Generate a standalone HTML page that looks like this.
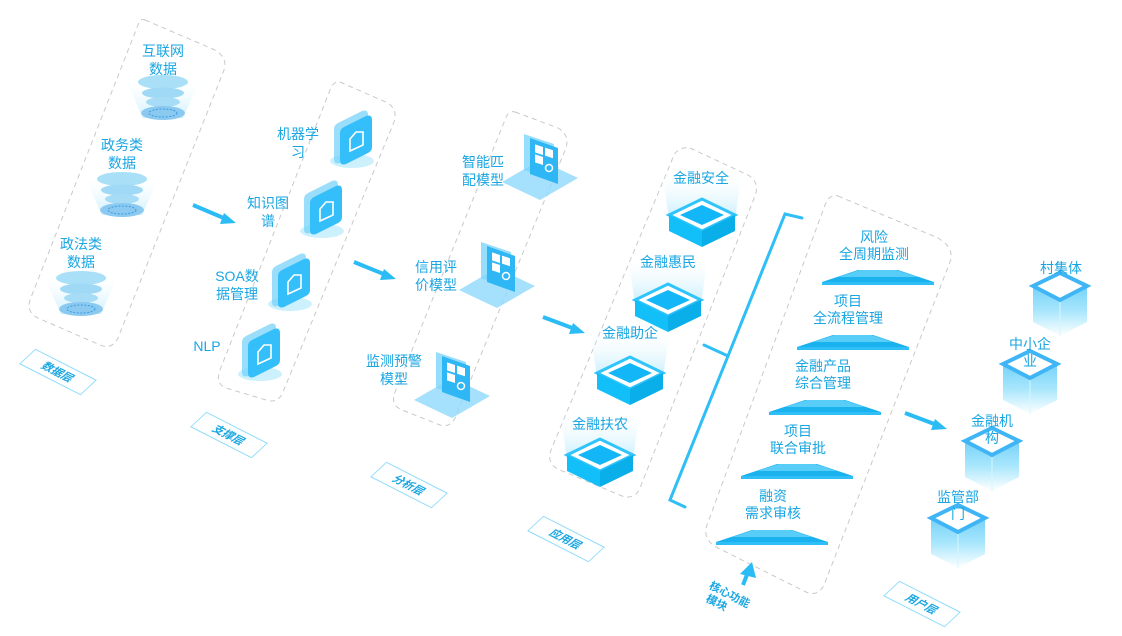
<!DOCTYPE html>
<html><head><meta charset="utf-8"><style>
html,body{margin:0;padding:0;background:#fff;}
svg text{font-family:"Liberation Sans","Noto Sans CJK SC",sans-serif;fill:#19a6e2;font-size:14px;text-anchor:middle;}
</style></head><body>
<svg width="1122" height="631" viewBox="0 0 1122 631" xmlns="http://www.w3.org/2000/svg">
<defs>
<linearGradient id="glow" x1="0" y1="0" x2="0" y2="1"><stop offset="0" stop-color="#ffffff" stop-opacity="0"/><stop offset="1" stop-color="#9fe3fb" stop-opacity="0.9"/></linearGradient>
<linearGradient id="cubeg" x1="0" y1="0" x2="0" y2="1"><stop offset="0" stop-color="#5cc8f8"/><stop offset="0.6" stop-color="#a8e6fc"/><stop offset="1" stop-color="#ffffff"/></linearGradient>
<g id="funnel">
<path d="M-38,-22 L38,-22 L20,18 L-20,18 Z" fill="url(#glow)" opacity="0.6"/>
<ellipse cx="0" cy="-18" rx="25" ry="7" fill="#a9e0f7"/>
<ellipse cx="0" cy="-7" rx="21" ry="5.5" fill="#9fd9f5"/>
<ellipse cx="0" cy="2" rx="17" ry="5" fill="#a6dcf6"/>
<ellipse cx="0" cy="13" rx="22" ry="7" fill="#8cc9f1"/>
<ellipse cx="0" cy="13" rx="14" ry="4" fill="none" stroke="#3c9fe0" stroke-dasharray="2 1.5"/>
</g>
<g id="sup">
<ellipse cx="0" cy="26" rx="22" ry="7" fill="#bfeefd" opacity="0.8"/>
<path d="M-14,-12 L10,-24 Q16,-26 16,-20 L16,10 Q16,14 12,16 L-12,28 Q-18,30 -18,24 L-18,-6 Q-18,-10 -14,-12 Z" fill="#6fd0fb" opacity="0.7"/>
<path d="M-8,-8 L14,-19 Q20,-21 20,-15 L20,12 Q20,16 16,18 L-6,29 Q-12,31 -12,25 L-12,-2 Q-12,-6 -8,-8 Z" fill="#34befa"/>
<path d="M-2,4 L4,-3 L11,-3 L11,10 L-2,16 Z" fill="none" stroke="#fff" stroke-width="1.6"/>
</g>
<g id="ana">
<path d="M-38,22 L0,0 L38,18 L0,40 Z" fill="#8ed8fb" opacity="0.8"/>
<path d="M-16,-26 L14,-16 L14,20 L-16,10 Z" fill="#7dd4fb" opacity="0.8"/>
<path d="M-10,-22 L18,-12 L18,24 L-10,14 Z" fill="#2fb6f4"/>
<rect x="-5" y="-14" width="8" height="8" fill="#fff" transform="skewY(18)"/>
<rect x="5" y="-14" width="8" height="8" fill="#fff" transform="skewY(18)"/>
<rect x="-5" y="-4" width="8" height="8" fill="#fff" transform="skewY(18)"/>
<circle cx="9" cy="8" r="3.5" fill="none" stroke="#fff" stroke-width="1.5"/>
</g>
<g id="box">
<path d="M-40,-55 L40,-55 L33,-5 L-33,-5 Z" fill="url(#glow)" opacity="0.7"/>
<path d="M-33,-10 L0,-26 L33,-10 L0,6 Z" fill="#fff" stroke="#2fc4fb" stroke-width="3"/>
<path d="M-22,-10 L0,-20 L22,-10 L0,0 Z" fill="#13b6f6"/>
<path d="M-33,-10 L0,6 L0,22 L-33,6 Z" fill="#12bff9"/>
<path d="M33,-10 L0,6 L0,22 L33,6 Z" fill="#0aaee9"/>
</g>
<g id="trap">
<path d="M-56,0 L-20,-12 L20,-12 L56,0 Z" fill="#19b2ee"/>
<path d="M-40,-5 L-18,-12 L18,-12 L40,-5 Z" fill="#57cdf8"/>
<rect x="-56" y="0" width="112" height="3" fill="#2fbff6"/>
</g>
<g id="ucube">
<path d="M-27,-14 L0,-27 L27,-14 L27,22 L0,36 L-27,22 Z" fill="url(#cubeg)"/>
<path d="M0,0 L0,36" stroke="#d8f5ff" stroke-width="1"/>
<path d="M-27,-14 L0,-27 L27,-14 L0,0 Z" fill="#fff" stroke="#3fb5f5" stroke-width="4"/>
</g>
</defs>
<g fill="none" stroke="#c9c9c9" stroke-dasharray="5 4" stroke-width="1">
<path d="M145,20 L215,50 Q228,58 224,70 L118,338 Q112,350 100,345 L38,318 Q26,312 30,300 L138,25 Q140,18 145,20 Z"/>
<path d="M340,82 L388,103 Q398,110 394,122 L283,392 Q278,404 266,400 L226,388 Q215,384 220,370 L330,90 Q334,80 340,82 Z"/>
<path d="M515,112 L558,128 Q570,135 566,148 L455,418 Q450,428 440,425 L402,410 Q390,405 395,392 L505,120 Q508,110 515,112 Z"/>
<path d="M690,148 L748,175 Q760,182 755,196 L640,488 Q635,500 622,496 L560,470 Q546,464 551,450 L672,160 Q676,146 690,148 Z"/>
<path d="M838,196 L938,238 Q955,248 950,262 L824,585 Q818,597 806,592 L718,548 Q702,540 707,525 L825,205 Q830,193 838,196 Z"/>
</g>
<g fill="none" stroke="#2fbff6" stroke-width="3" stroke-linecap="round">
<path d="M802,218 L785,214 L728,356 L704,345"/>
<path d="M728,356 L670,500 L685,507"/>
</g>
<g stroke="#2bbcf5" stroke-width="4" fill="#2bbcf5">
<line x1="193" y1="205" x2="226" y2="219"/><path d="M224,213 L236,223 L220,224 Z" stroke="none"/>
<line x1="354" y1="262" x2="386" y2="275"/><path d="M384,269 L396,279 L380,280 Z" stroke="none"/>
<line x1="543" y1="317" x2="575" y2="329"/><path d="M573,323 L585,333 L569,334 Z" stroke="none"/>
<line x1="905" y1="413" x2="937" y2="425"/><path d="M935,419 L947,429 L931,430 Z" stroke="none"/>
<line x1="743" y1="585" x2="748" y2="572"/><path d="M740,574 L752,562 L756,578 Z" stroke="none"/>
</g>
<use href="#funnel" x="163" y="100"/><use href="#funnel" x="122" y="197"/><use href="#funnel" x="81" y="296"/>
<use href="#sup" x="352" y="135"/><use href="#sup" x="322" y="205"/><use href="#sup" x="290" y="278"/><use href="#sup" x="260" y="348"/>
<use href="#ana" x="540" y="160"/><use href="#ana" x="497" y="268"/><use href="#ana" x="452" y="378"/>
<use href="#box" x="702" y="225"/><use href="#box" x="668" y="310"/><use href="#box" x="630" y="383"/><use href="#box" x="600" y="465"/>
<use href="#trap" x="878" y="282"/><use href="#trap" x="853" y="347"/><use href="#trap" x="825" y="412"/><use href="#trap" x="797" y="476"/><use href="#trap" x="772" y="542"/>
<use href="#ucube" x="1060" y="300"/><use href="#ucube" x="1030" y="378"/><use href="#ucube" x="992" y="455"/><use href="#ucube" x="958" y="532"/>
<text x="1061" y="273">村集体</text><text x="1030" y="349">中小企</text><text x="1030" y="366">业</text>
<text x="992" y="426">金融机</text><text x="992" y="443">构</text>
<text x="958" y="502">监管部</text><text x="958" y="519">门</text>
<text x="163" y="56">互联网</text><text x="163" y="74">数据</text>
<text x="122" y="150">政务类</text><text x="122" y="168">数据</text>
<text x="81" y="249">政法类</text><text x="81" y="267">数据</text>
<text x="298" y="139">机器学</text><text x="298" y="157">习</text>
<text x="268" y="208">知识图</text><text x="268" y="226">谱</text>
<text x="237" y="281">SOA数</text><text x="237" y="299">据管理</text>
<text x="207" y="351">NLP</text>
<text x="483" y="167">智能匹</text><text x="483" y="185">配模型</text>
<text x="436" y="272">信用评</text><text x="436" y="290">价模型</text>
<text x="394" y="366">监测预警</text><text x="394" y="384">模型</text>
<text x="701" y="183">金融安全</text><text x="668" y="267">金融惠民</text>
<text x="630" y="338">金融助企</text><text x="600" y="429">金融扶农</text>
<text x="874" y="242">风险</text><text x="874" y="259">全周期监测</text>
<text x="848" y="306">项目</text><text x="848" y="323">全流程管理</text>
<text x="823" y="371">金融产品</text><text x="823" y="388">综合管理</text>
<text x="798" y="436">项目</text><text x="798" y="453">联合审批</text>
<text x="773" y="501">融资</text><text x="773" y="518">需求审核</text>
<g>
<g transform="translate(58,372) rotate(27) skewX(-20)"><rect x="-34" y="-10" width="68" height="20" fill="none" stroke="#8fdcfb"/><text y="4" style="font-size:11px;font-weight:bold">数据层</text></g>
<g transform="translate(229,435) rotate(27) skewX(-20)"><rect x="-34" y="-10" width="68" height="20" fill="none" stroke="#8fdcfb"/><text y="4" style="font-size:11px;font-weight:bold">支撑层</text></g>
<g transform="translate(409,485) rotate(27) skewX(-20)"><rect x="-34" y="-10" width="68" height="20" fill="none" stroke="#8fdcfb"/><text y="4" style="font-size:11px;font-weight:bold">分析层</text></g>
<g transform="translate(566,539) rotate(27) skewX(-20)"><rect x="-34" y="-10" width="68" height="20" fill="none" stroke="#8fdcfb"/><text y="4" style="font-size:11px;font-weight:bold">应用层</text></g>
<g transform="translate(922,604) rotate(27) skewX(-20)"><rect x="-34" y="-10" width="68" height="20" fill="none" stroke="#8fdcfb"/><text y="4" style="font-size:11px;font-weight:bold">用户层</text></g>
<g transform="translate(728,598) rotate(27)"><text y="0" style="font-size:11px;font-weight:bold">核心功能</text><text x="-8" y="13" style="font-size:11px;font-weight:bold">模块</text></g>
</g>
</svg>
</body></html>
